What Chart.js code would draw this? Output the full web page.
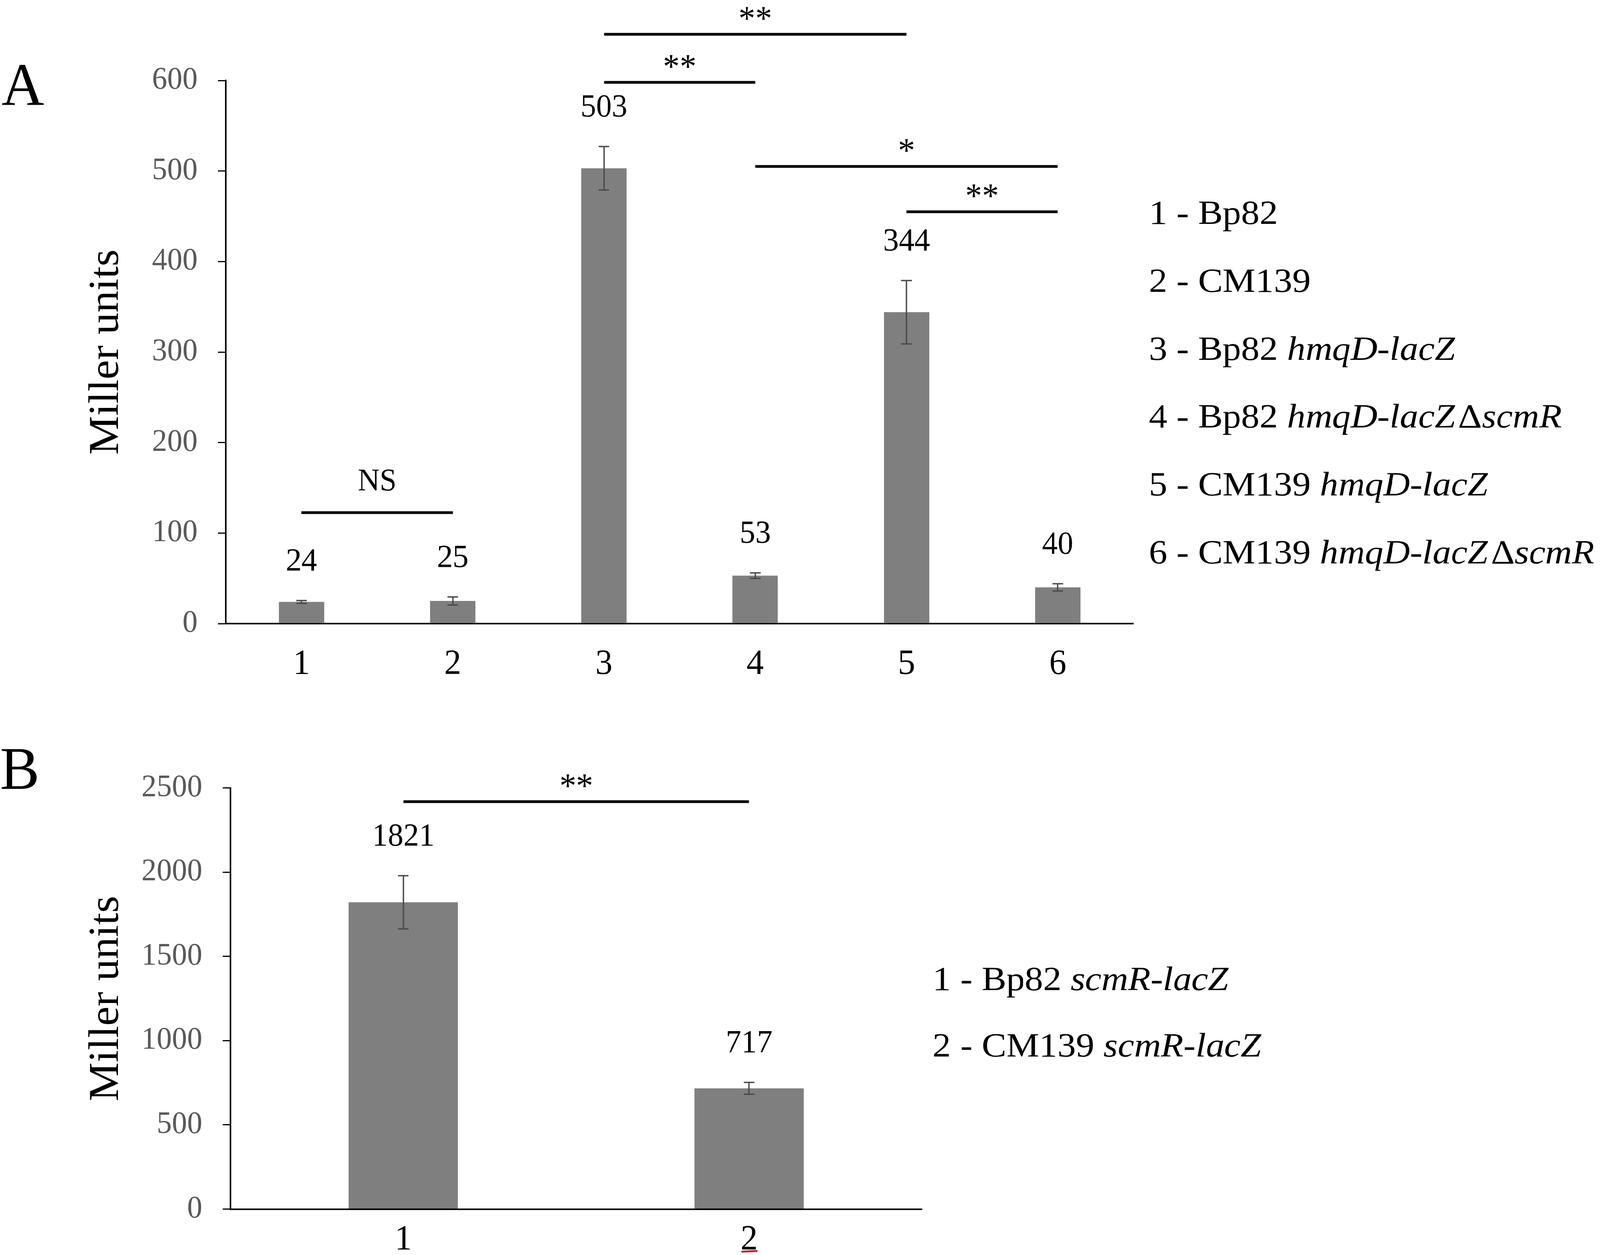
<!DOCTYPE html>
<html><head><meta charset="utf-8">
<script src="https://cdn.jsdelivr.net/npm/chart.js@4.4.0/dist/chart.umd.min.js"></script>
<style>
html,body{margin:0;padding:0;background:#fff;overflow:hidden;}
#wrap{position:relative;width:4200px;height:3212px;background:#fff;overflow:hidden;transform-origin:0 0;}
canvas{position:absolute;left:0;}
</style></head><body>
<div id="wrap">
<canvas id="cA" width="4200" height="1850" style="top:0;width:4200px;height:1850px"></canvas>
<canvas id="cB" width="4200" height="1362" style="top:1850px;width:4200px;height:1362px"></canvas>
</div>
<script>
// ---------- Panel A data ----------
const categoriesA = ['1', '2', '3', '4', '5', '6'];
const valuesA = [24, 25, 503, 53, 344, 40];
const errorsA = [1.5, 4.5, 24, 3, 35, 4];
const yTicksA = [0, 100, 200, 300, 400, 500, 600];
const comparisonsA = [
  {from: 0, to: 1, level: 122.6, mark: 'NS'},
  {from: 2, to: 4, level: 651, mark: '**'},
  {from: 2, to: 3, level: 598, mark: '**'},
  {from: 3, to: 5, level: 505, mark: '*'},
  {from: 4, to: 5, level: 455, mark: '**'}
];
const legendA = [
  [['1 - Bp82', false]],
  [['2 - CM139', false]],
  [['3 - Bp82 ', false], ['hmqD-lacZ', true]],
  [['4 - Bp82 ', false], ['hmqD-lacZ', true], ['\u200A\u0394', false], ['scmR', true]],
  [['5 - CM139 ', false], ['hmqD-lacZ', true]],
  [['6 - CM139 ', false], ['hmqD-lacZ', true], ['\u200A\u0394', false], ['scmR', true]]
];

// ---------- Panel B data ----------
const categoriesB = ['1', '2'];
const valuesB = [1821, 717];
const errorsB = [158, 35];
const yTicksB = [0, 500, 1000, 1500, 2000, 2500];
const comparisonsB = [
  {from: 0, to: 1, level: 2418, mark: '**'}
];
const legendB = [
  [['1 - Bp82 ', false], ['scmR-lacZ', true]],
  [['2 - CM139 ', false], ['scmR-lacZ', true]]
];

// fit the 4200x3212 design into the actual viewport
(function fit() {
  const sx = Math.min(1, window.innerWidth / 4200);
  const sy = Math.min(1, window.innerHeight / 3212);
  document.getElementById('wrap').style.transform = 'scale(' + sx + ',' + sy + ')';
})();

const SERIF = "'Liberation Serif', 'Times New Roman', serif";

function drawCenteredText(ctx, text, x, yCenter, font, color) {
  ctx.save();
  ctx.font = font;
  ctx.fillStyle = color;
  ctx.textAlign = 'center';
  ctx.textBaseline = 'alphabetic';
  const m = ctx.measureText(text);
  const yb = yCenter + (m.actualBoundingBoxAscent - m.actualBoundingBoxDescent) / 2;
  ctx.fillText(text, x, yb);
  ctx.restore();
}

function drawBottomText(ctx, text, x, yBottom, font) {
  ctx.save();
  ctx.font = font;
  ctx.fillStyle = '#000';
  ctx.textAlign = 'center';
  ctx.textBaseline = 'alphabetic';
  const m = ctx.measureText(text);
  ctx.fillText(text, x, yBottom - m.actualBoundingBoxDescent);
  ctx.restore();
}

function drawLegendRows(ctx, rows, x, baseline0, spacing, size, stretch) {
  rows.forEach((row, i) => {
    ctx.save();
    ctx.translate(x, baseline0 + i * spacing);
    ctx.scale(stretch, 1);
    ctx.fillStyle = '#000';
    ctx.textBaseline = 'alphabetic';
    ctx.textAlign = 'left';
    let cx = 0;
    row.forEach(([t, it]) => {
      ctx.font = (it ? 'italic ' : '') + size + 'px ' + SERIF;
      ctx.fillText(t, cx, 0);
      cx += ctx.measureText(t).width;
    });
    ctx.restore();
  });
}

function annotPlugin(opts) {
  return {
    id: 'annot_' + opts.name,
    afterDatasetsDraw(chart) {
      const ctx = chart.ctx;
      const xs = chart.scales.x, ys = chart.scales.y;
      ctx.save();
      ctx.strokeStyle = '#4a4a4a';
      ctx.lineWidth = 3.5;
      opts.values.forEach((v, i) => {
        const x = xs.getPixelForValue(i);
        const yTop = ys.getPixelForValue(v + opts.errors[i]);
        const yBot = ys.getPixelForValue(v - opts.errors[i]);
        const cap = 14;
        ctx.beginPath();
        ctx.moveTo(x, yTop); ctx.lineTo(x, yBot);
        ctx.moveTo(x - cap, yTop); ctx.lineTo(x + cap, yTop);
        ctx.moveTo(x - cap, yBot); ctx.lineTo(x + cap, yBot);
        ctx.stroke();
        drawCenteredText(ctx, String(v), x, yTop - 104, '82px ' + SERIF, '#000');
      });
      ctx.restore();
      opts.comparisons.forEach(c => {
        const x1 = xs.getPixelForValue(c.from);
        const x2 = xs.getPixelForValue(c.to);
        const y = ys.getPixelForValue(c.level);
        ctx.save();
        ctx.strokeStyle = '#000';
        ctx.lineWidth = 7;
        ctx.beginPath();
        ctx.moveTo(x1, y); ctx.lineTo(x2, y);
        ctx.stroke();
        ctx.restore();
        if (c.mark === 'NS') {
          drawBottomText(ctx, c.mark, (x1 + x2) / 2, y - 56, '80px ' + SERIF);
        } else {
          drawBottomText(ctx, c.mark, (x1 + x2) / 2, y - 37, '88px ' + SERIF);
        }
      });
    },
    afterDraw(chart) {
      const ctx = chart.ctx;
      ctx.save();
      ctx.font = '155px ' + SERIF;
      ctx.fillStyle = '#000';
      ctx.textBaseline = 'alphabetic';
      ctx.fillText(opts.letter, opts.letterX, opts.letterY);
      ctx.restore();
      drawLegendRows(ctx, opts.legend, opts.legX, opts.legY, opts.legSpacing, 86, 1.125);
      if (opts.after) opts.after(chart);
    }
  };
}

function makeChart(id, cats, vals, yTicks, axisWidth, axisHeight, padding, barPct, tickPad, plugin) {
  const step = yTicks[1] - yTicks[0];
  return new Chart(document.getElementById(id), {
    type: 'bar',
    data: {
      labels: cats,
      datasets: [{
        data: vals,
        backgroundColor: '#7f7f7f',
        borderWidth: 0,
        barPercentage: barPct,
        categoryPercentage: 1.0
      }]
    },
    options: {
      responsive: false,
      maintainAspectRatio: false,
      devicePixelRatio: 1,
      animation: false,
      events: [],
      layout: {padding: padding},
      plugins: {legend: {display: false}, tooltip: {enabled: false}, title: {display: false}},
      scales: {
        x: {
          ticks: {color: '#000', font: {family: SERIF, size: 90}, padding: tickPad, maxRotation: 0, autoSkip: false},
          grid: {display: false, drawTicks: false},
          border: {display: true, color: '#000', width: 4},
          afterFit: s => { s.height = axisHeight; }
        },
        y: {
          min: yTicks[0],
          max: yTicks[yTicks.length - 1],
          ticks: {stepSize: step, color: '#595959', font: {family: SERIF, size: 80}, padding: 53, callback: v => String(v)},
          grid: {display: true, drawOnChartArea: false, drawTicks: true, tickLength: 21, color: '#000', lineWidth: 3},
          border: {display: true, color: '#000', width: 4},
          title: {display: true, text: 'Miller units', color: '#000', font: {family: SERIF, size: 112}, padding: {top: 213, bottom: 0}},
          afterFit: s => { s.width = axisWidth; }
        }
      }
    },
    plugins: [plugin]
  });
}

makeChart('cA', categoriesA, valuesA, yTicksA, 593, 254,
  {left: 0, top: 206, right: 4200 - 2975, bottom: 0}, 0.30, 51,
  annotPlugin({name: 'A', values: valuesA, errors: errorsA, comparisons: comparisonsA,
    letter: 'A', letterX: 4, letterY: 268,
    legend: legendA, legX: 3016, legY: 573, legSpacing: 173.8}));

makeChart('cB', categoriesB, valuesB, yTicksB, 605, 117.4,
  {left: 0, top: 166.5, right: 4200 - 2420, bottom: 0}, 0.316, 26,
  annotPlugin({name: 'B', values: valuesB, errors: errorsB, comparisons: comparisonsB,
    letter: 'B', letterX: 0, letterY: 169,
    legend: legendB, legX: 2448, legY: 684, legSpacing: 170,
    after: chart => {
      const ctx = chart.ctx;
      const x = chart.scales.x.getPixelForValue(1);
      const y = chart.chartArea.bottom + 109;
      ctx.save();
      ctx.strokeStyle = '#c0281e';
      ctx.lineWidth = 5;
      ctx.beginPath();
      ctx.moveTo(x - 20, y); ctx.lineTo(x + 22, y - 2);
      ctx.stroke();
      ctx.restore();
    }}));
</script>
</body></html>
